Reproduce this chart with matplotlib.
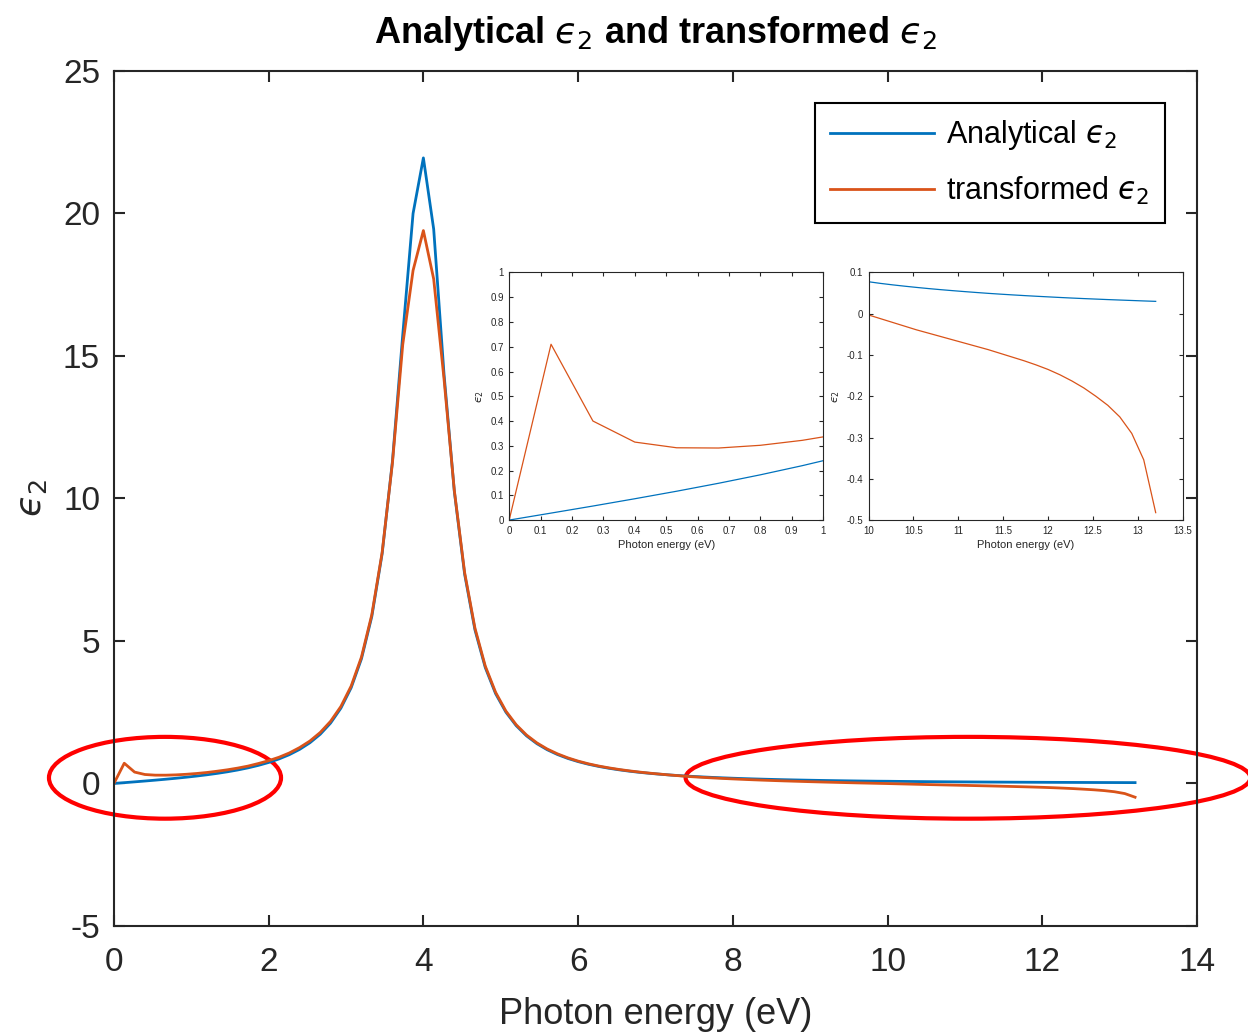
import matplotlib
matplotlib.use('Agg')
import matplotlib.pyplot as plt
from matplotlib.patches import Ellipse

plt.rcParams['font.family'] = ['Liberation Sans', 'DejaVu Sans']
plt.rcParams['mathtext.fontset'] = 'dejavusans'
plt.rcParams['axes.unicode_minus'] = False

# photon energy grid (eV)
energy = [0.0, 0.1333, 0.2667, 0.4, 0.5333, 0.6667, 0.8, 0.9333, 1.0667, 1.2,
          1.3333, 1.4667, 1.6, 1.7333, 1.8667, 2.0, 2.1333, 2.2667, 2.4, 2.5333,
          2.6667, 2.8, 2.9333, 3.0667, 3.2, 3.3333, 3.4667, 3.6, 3.7333, 3.8667,
          4.0, 4.1333, 4.2667, 4.4, 4.5333, 4.6667, 4.8, 4.9333, 5.0667, 5.2,
          5.3333, 5.4667, 5.6, 5.7333, 5.8667, 6.0, 6.1333, 6.2667, 6.4, 6.5333,
          6.6667, 6.8, 6.9333, 7.0667, 7.2, 7.3333, 7.4667, 7.6, 7.7333, 7.8667,
          8.0, 8.1333, 8.2667, 8.4, 8.5333, 8.6667, 8.8, 8.9333, 9.0667, 9.2,
          9.3333, 9.4667, 9.6, 9.7333, 9.8667, 10.0, 10.1333, 10.2667, 10.4, 10.5333,
          10.6667, 10.8, 10.9333, 11.0667, 11.2, 11.3333, 11.4667, 11.6, 11.7333, 11.8667,
          12.0, 12.1333, 12.2667, 12.4, 12.5333, 12.6667, 12.8, 12.9333, 13.0667, 13.2]

eps2_analytical = [0.0, 0.0282, 0.0567, 0.0861, 0.1165, 0.1486, 0.1828, 0.2197, 0.2599, 0.3044,
                   0.354, 0.410, 0.474, 0.548, 0.635, 0.737, 0.861, 1.010, 1.196, 1.429,
                   1.727, 2.118, 2.641, 3.361, 4.379, 5.859, 8.057, 11.30, 15.74, 20.0,
                   21.95, 19.45, 14.37, 10.25, 7.345, 5.390, 4.069, 3.154, 2.503, 2.028,
                   1.671, 1.398, 1.185, 1.016, 0.879, 0.768, 0.675, 0.598, 0.533, 0.478,
                   0.430, 0.389, 0.354, 0.323, 0.295, 0.271, 0.250, 0.231, 0.2136, 0.1982,
                   0.1844, 0.1719, 0.1605, 0.1502, 0.1408, 0.1322, 0.1243, 0.1171, 0.1104, 0.1043,
                   0.0986, 0.0934, 0.0885, 0.0840, 0.0798, 0.0775, 0.0735, 0.0700, 0.0668, 0.0638,
                   0.0610, 0.0584, 0.0560, 0.0537, 0.0515, 0.0494, 0.0475, 0.0457, 0.0440, 0.0424,
                   0.0409, 0.0394, 0.0380, 0.0367, 0.0355, 0.0343, 0.0332, 0.0321, 0.0310, 0.0300]

eps2_transformed = [0.0, 0.71, 0.40, 0.315, 0.292, 0.291, 0.302, 0.322, 0.350, 0.385,
                    0.43, 0.48, 0.54, 0.61, 0.70, 0.80, 0.92, 1.07, 1.26, 1.49,
                    1.79, 2.18, 2.70, 3.42, 4.44, 5.92, 8.10, 11.25, 15.40, 18.0,
                    19.4, 17.7, 14.2, 10.28, 7.40, 5.45, 4.12, 3.20, 2.54, 2.06,
                    1.70, 1.425, 1.21, 1.04, 0.90, 0.785, 0.69, 0.612, 0.547, 0.49,
                    0.441, 0.398, 0.36, 0.326, 0.294, 0.265, 0.238, 0.216, 0.196, 0.177,
                    0.160, 0.144, 0.129, 0.115, 0.102, 0.090, 0.079, 0.068, 0.058, 0.048,
                    0.039, 0.030, 0.021, 0.013, 0.005, -0.003, -0.012, -0.021, -0.030, -0.039,
                    -0.047, -0.055, -0.063, -0.071, -0.079, -0.087, -0.096, -0.105, -0.114, -0.124,
                    -0.135, -0.148, -0.163, -0.180, -0.200, -0.222, -0.250, -0.290, -0.354, -0.482]

blue = '#0072BD'
orange = '#D95319'
axcol = '#262626'
eps = '$\u03f5_2$'

fig = plt.figure(figsize=(12.48, 10.36), dpi=100)
ax = fig.add_axes([0.0913, 0.1062, 0.8678, 0.8253])
ax.plot(energy, eps2_analytical, color=blue, lw=2.0, label='Analytical ' + eps)
ax.plot(energy, eps2_transformed, color=orange, lw=2.0, label='transformed ' + eps)
ax.set_xlim(0, 14)
ax.set_ylim(-5, 25)
ax.set_xticks(range(0, 15, 2))
ax.set_yticks(range(-5, 26, 5))
ax.tick_params(direction='in', top=True, right=True, labelsize=24, length=8, width=1.5,
               colors=axcol, pad=10)
ax.tick_params(axis='x', pad=15)
for s in ax.spines.values():
    s.set_linewidth(1.5)
    s.set_color(axcol)
ax.set_xlabel('Photon energy (eV)', fontsize=26, color=axcol, labelpad=14)
ax.set_ylabel(eps, fontsize=26, color=axcol, labelpad=10)
ax.set_title('Analytical ' + eps + ' and transformed ' + eps, fontsize=26,
             fontweight='bold', pad=20)
leg = ax.legend(loc='upper right', bbox_to_anchor=(0.9705, 0.9626), fontsize=22,
                handlelength=3.4, fancybox=False, framealpha=1, borderpad=0.5,
                labelspacing=0.75, handletextpad=0.4, borderaxespad=0)
leg.get_frame().set_edgecolor('black')
leg.get_frame().set_linewidth(1.5)

# red ellipses marking the tails
ax.add_patch(Ellipse((0.66, 0.2), 3.0, 2.87, fill=False, ec='red', lw=3, clip_on=False))
ax.add_patch(Ellipse((11.04, 0.2), 7.3, 2.87, fill=False, ec='red', lw=3, clip_on=False))

# inset: low energy
ax1 = fig.add_axes([0.408, 0.498, 0.2516, 0.239])
ax1.plot(energy, eps2_analytical, color=blue, lw=0.9)
ax1.plot(energy, eps2_transformed, color=orange, lw=0.9)
ax1.set_xlim(0, 1)
ax1.set_ylim(0, 1)
ax1.set_xticks([0, 0.1, 0.2, 0.3, 0.4, 0.5, 0.6, 0.7, 0.8, 0.9, 1])
ax1.set_xticklabels(['0', '0.1', '0.2', '0.3', '0.4', '0.5', '0.6', '0.7', '0.8', '0.9', '1'])
ax1.set_yticks([0, 0.1, 0.2, 0.3, 0.4, 0.5, 0.6, 0.7, 0.8, 0.9, 1])
ax1.set_yticklabels(['0', '0.1', '0.2', '0.3', '0.4', '0.5', '0.6', '0.7', '0.8', '0.9', '1'])
ax1.set_xlabel('Photon energy (eV)', fontsize=8, color=axcol, labelpad=3)
ax1.set_ylabel(eps, fontsize=8, color=axcol, labelpad=3)

# inset: high energy
ax2 = fig.add_axes([0.696, 0.498, 0.2516, 0.239])
ax2.plot(energy, eps2_analytical, color=blue, lw=0.9)
ax2.plot(energy, eps2_transformed, color=orange, lw=0.9)
ax2.set_xlim(10, 13.5)
ax2.set_ylim(-0.5, 0.1)
ax2.set_xticks([10, 10.5, 11, 11.5, 12, 12.5, 13, 13.5])
ax2.set_xticklabels(['10', '10.5', '11', '11.5', '12', '12.5', '13', '13.5'])
ax2.set_yticks([-0.5, -0.4, -0.3, -0.2, -0.1, 0, 0.1])
ax2.set_yticklabels(['-0.5', '-0.4', '-0.3', '-0.2', '-0.1', '0', '0.1'])
ax2.set_xlabel('Photon energy (eV)', fontsize=8, color=axcol, labelpad=3)
ax2.set_ylabel(eps, fontsize=8, color=axcol, labelpad=3)

for a in (ax1, ax2):
    a.tick_params(direction='in', top=True, right=True, labelsize=7, length=3,
                  width=0.8, colors=axcol, pad=4)
    for s in a.spines.values():
        s.set_linewidth(0.8)
        s.set_color(axcol)

fig.savefig('out.png', dpi=100)
